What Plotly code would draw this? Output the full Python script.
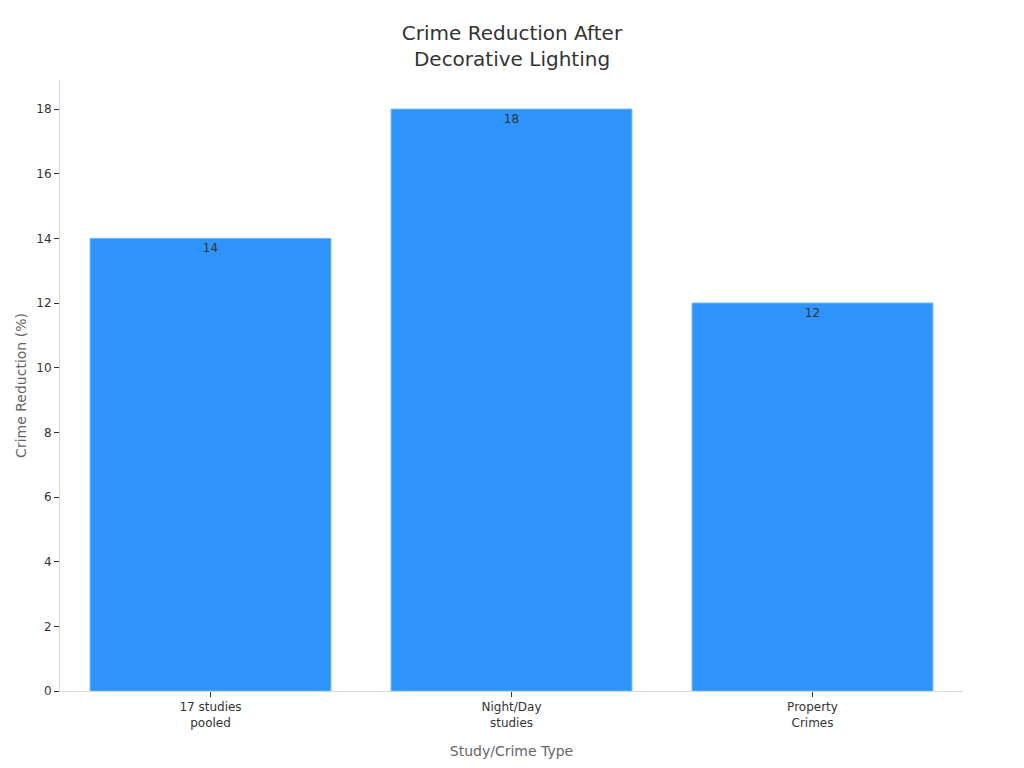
import plotly.graph_objects as go

categories = ["17 studies<br>pooled", "Night/Day<br>studies", "Property<br>Crimes"]
values = [14, 18, 12]
labels = ["14", "18", "12"]

fig = go.Figure()
fig.add_trace(go.Bar(
    x=categories,
    y=values,
    text=labels,
    textposition="inside",
    insidetextanchor="end",
    textfont=dict(size=12, color="#333333"),
    marker=dict(color="#2E93FA", line=dict(color="#6BB3FB", width=1)),
))

fig.update_layout(
    width=1024,
    height=768,
    paper_bgcolor="white",
    plot_bgcolor="white",
    font=dict(family="DejaVu Sans", size=12, color="#333333"),
    title=dict(
        text="Crime Reduction After<br>Decorative Lighting",
        x=504 / 1024,
        xanchor="center",
        y=0.9586,
        yanchor="top",
        font=dict(size=20, color="#333333"),
    ),
    margin=dict(l=52, r=69, t=72, b=85),
    bargap=0.2,
    showlegend=False,
)
fig.update_xaxes(
    title=dict(text="Study/Crime Type", font=dict(size=14, color="#666666"), standoff=17),
    showline=True,
    linecolor="#d9d9d9",
    ticks="outside",
    tickcolor="#333333",
    ticklen=5,
    showgrid=False,
    tickfont=dict(size=12, color="#333333"),
)
fig.update_yaxes(
    title=dict(text="Crime Reduction (%)", font=dict(size=14, color="#666666"), standoff=6),
    range=[0, 18.9],
    dtick=2,
    showline=True,
    linecolor="#d9d9d9",
    ticks="outside",
    tickcolor="#333333",
    ticklen=5,
    showgrid=False,
    zeroline=False,
    tickfont=dict(size=12, color="#333333"),
)

fig.write_html("out.html")
